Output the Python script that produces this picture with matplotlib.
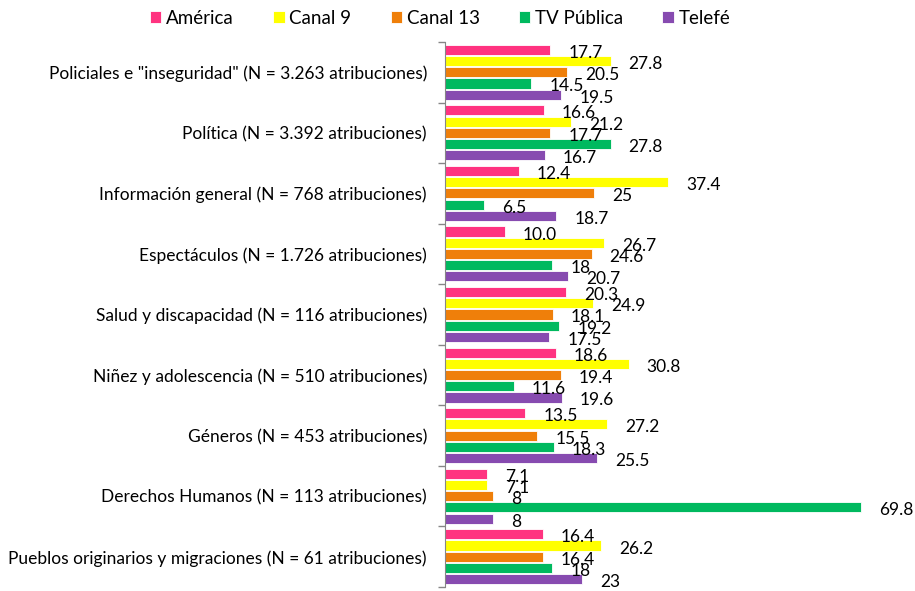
import matplotlib
matplotlib.use("Agg")
import matplotlib.pyplot as plt
import numpy as np

plt.rcParams['font.family'] = ['Lato', 'DejaVu Sans']

# categories (top to bottom)
categories = [
    'Policiales e "inseguridad" (N = 3.263 atribuciones)',
    'Política (N = 3.392 atribuciones)',
    'Información general (N = 768 atribuciones)',
    'Espectáculos (N = 1.726 atribuciones)',
    'Salud y discapacidad (N = 116 atribuciones)',
    'Niñez y adolescencia (N = 510 atribuciones)',
    'Géneros (N = 453 atribuciones)',
    'Derechos Humanos (N = 113 atribuciones)',
    'Pueblos originarios y migraciones (N = 61 atribuciones)',
]
channels = ['América', 'Canal 9', 'Canal 13', 'TV Pública', 'Telefé']
colors = ['#FF3380', '#FFFF00', '#EF7F0A', '#00B95F', '#874BB0']

america = [17.7, 16.6, 12.4, 10.0, 20.3, 18.6, 13.5, 7.1, 16.4]
canal9 = [27.8, 21.2, 37.4, 26.7, 24.9, 30.8, 27.2, 7.1, 26.2]
canal13 = [20.5, 17.7, 25, 24.6, 18.1, 19.4, 15.5, 8, 16.4]
tv_publica = [14.5, 27.8, 6.5, 18, 19.2, 11.6, 18.3, 69.8, 18]
telefe = [19.5, 16.7, 18.7, 20.7, 17.5, 19.6, 25.5, 8, 23]

# labels as printed on the chart
america_lbl = ['17.7', '16.6', '12.4', '10.0', '20.3', '18.6', '13.5', '7.1', '16.4']
canal9_lbl = ['27.8', '21.2', '37.4', '26.7', '24.9', '30.8', '27.2', '7.1', '26.2']
canal13_lbl = ['20.5', '17.7', '25', '24.6', '18.1', '19.4', '15.5', '8', '16.4']
tv_publica_lbl = ['14.5', '27.8', '6.5', '18', '19.2', '11.6', '18.3', '69.8', '18']
telefe_lbl = ['19.5', '16.7', '18.7', '20.7', '17.5', '19.6', '25.5', '8', '23']

series = [america, canal9, canal13, tv_publica, telefe]
series_lbl = [america_lbl, canal9_lbl, canal13_lbl, tv_publica_lbl, telefe_lbl]

fig = plt.figure(figsize=(9.15, 5.91), dpi=100)
ax = fig.add_axes([445 / 915, 4 / 591, 460 / 915, 545 / 591])

y = np.arange(len(categories))
slot = 0.185
for j, (vals, lbls) in enumerate(zip(series, series_lbl)):
    yy = y + (j - 2) * slot
    ax.barh(yy, vals, height=slot * 0.9, color=colors[j], edgecolor='white',
            linewidth=0.6, label=channels[j])
    for v, yv, t in zip(vals, yy, lbls):
        ax.annotate(t, (v, yv), xytext=(18, -3), textcoords='offset pixels',
                    ha='left', va='center', fontsize=12.5, color='black')

ax.set_xlim(0, 77.2)
ax.set_ylim(len(categories) - 0.5, -0.5)

ax.set_yticks(y)
ax.set_yticklabels(categories, fontsize=12.5)
ax.tick_params(axis='y', which='major', length=0, pad=13)
ax.set_yticks(np.arange(len(categories) + 1) - 0.5, minor=True)
ax.tick_params(axis='y', which='minor', length=5, color='#868686', width=1)
ax.set_xticks([])

for side in ['top', 'right', 'bottom']:
    ax.spines[side].set_visible(False)
ax.spines['left'].set_color('#868686')

fig.legend(loc='upper center', bbox_to_anchor=(0.481, 1.012), ncol=5, frameon=False,
           fontsize=13.5, handlelength=0.6, handleheight=0.6, handletextpad=0.25,
           columnspacing=2.1)

fig.savefig('out.png', dpi=100)
